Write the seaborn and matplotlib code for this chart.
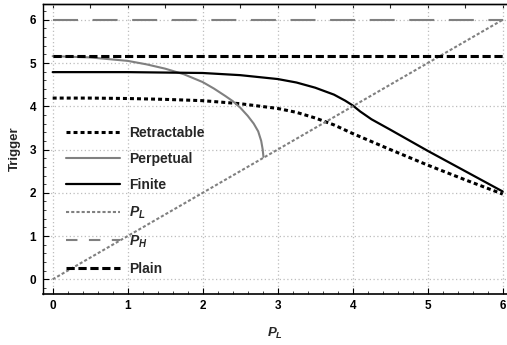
import numpy as np
import pandas as pd
import matplotlib
matplotlib.use("Agg")
import matplotlib.pyplot as plt
import seaborn as sns

# ---- data ----
x_ret = [0, 0.5, 1, 1.5, 2, 2.5, 3, 3.25, 3.5, 3.75, 4, 4.5, 5, 5.5, 6]
y_ret = [4.19, 4.19, 4.18, 4.16, 4.13, 4.06, 3.95, 3.86, 3.73, 3.57, 3.37, 3.00, 2.64, 2.30, 1.97]

x_per = [0, 0.5, 1, 1.25, 1.5, 1.75, 2, 2.15, 2.3, 2.4, 2.5, 2.6, 2.68, 2.74, 2.78, 2.8, 2.81]
y_per = [5.16, 5.13, 5.05, 4.97, 4.87, 4.74, 4.56, 4.41, 4.24, 4.12, 3.97, 3.78, 3.60, 3.42, 3.20, 3.00, 2.83]

x_fin = [0, 1, 2, 2.5, 3, 3.25, 3.5, 3.75, 3.9, 4, 4.1, 4.25, 4.5, 5, 5.5, 6]
y_fin = [4.79, 4.79, 4.77, 4.72, 4.63, 4.55, 4.43, 4.27, 4.13, 4.02, 3.88, 3.70, 3.46, 2.97, 2.50, 2.03]

x_pl = [0, 6]
y_pl = [0, 6]

x_ph = [0, 6]
y_ph = [6, 6]

x_plain = [0, 6]
y_plain = [5.16, 5.16]

labels = ["Retractable", "Perpetual", "Finite", "$P_L$", "$P_H$", "Plain"]
x_ticks = [0, 1, 2, 3, 4, 5, 6]
y_ticks = [0, 1, 2, 3, 4, 5, 6]

# ---- style ----
sns.set_theme(style="ticks")
plt.rcParams["font.family"] = ["Liberation Sans", "DejaVu Sans"]
plt.rcParams["font.weight"] = "bold"
plt.rcParams["mathtext.fontset"] = "custom"
plt.rcParams["mathtext.it"] = "Liberation Sans:italic:bold"
plt.rcParams["mathtext.rm"] = "Liberation Sans:bold"
plt.rcParams["mathtext.bf"] = "Liberation Sans:bold"

W, H = 507, 345
fig = plt.figure(figsize=(W / 100, H / 100), dpi=100)
ax = fig.add_axes([43 / W, (H - 293.5) / H, (W - 43) / W, (293.5 - 4.3) / H])

gray = "#808080"
series = [
    (x_ret, y_ret, "black", (0, (1.3, 1.0)), 2.2),
    (x_per, y_per, gray, "-", 1.5),
    (x_fin, y_fin, "black", "-", 1.6),
    (x_pl, y_pl, gray, (0, (1.5, 1.0)), 1.5),
    (x_ph, y_ph, gray, (0, (12, 7)), 1.5),
    (x_plain, y_plain, "black", (0, (2.7, 1.2)), 2.2),
]
for (xs, ys, c, ls, lw), lab in zip(series, labels):
    sns.lineplot(x=xs, y=ys, ax=ax, color=c, linestyle=ls, linewidth=lw,
                 label=lab, estimator=None, sort=False)

ax.set_xlim(-0.129, 6.057)
ax.set_ylim(-0.328, 6.358)
ax.set_xticks(x_ticks)
ax.set_yticks(y_ticks)
ax.set_xticklabels([str(t) for t in x_ticks])
ax.set_yticklabels([str(t) for t in y_ticks])
ax.xaxis.set_minor_locator(matplotlib.ticker.MultipleLocator(0.2))
ax.yaxis.set_minor_locator(matplotlib.ticker.MultipleLocator(0.2))
ax.tick_params(which="major", direction="in", length=4, width=0.8, labelsize=8.5,
               pad=5, colors="black")
ax.tick_params(which="minor", direction="in", length=2.5, width=0.6)
ax.tick_params(axis="x", which="both", top=False)
ax.tick_params(axis="y", which="both", right=False)
for lab in ax.get_xticklabels() + ax.get_yticklabels():
    lab.set_fontweight("bold")

ax.grid(True, which="major", color="#bdbdbd", linestyle=(0, (1, 2)), linewidth=0.9)
ax.set_axisbelow(True)

for s in ["left", "bottom", "top"]:
    ax.spines[s].set_color("black")
    ax.spines[s].set_linewidth(1.0)
ax.spines["bottom"].set_linewidth(1.2)
ax.spines["right"].set_visible(False)

sec = ax.secondary_xaxis("top")
sec.set_xticks(np.arange(0, 6.01, 0.5))
sec.set_xticklabels([])
sec.tick_params(direction="in", length=3, width=0.8)
sec.spines["top"].set_linewidth(1.0)

ax.set_ylabel("Trigger", fontsize=9.5, fontweight="bold", labelpad=6)
ax.set_xlabel("$P_L$", fontsize=9.5, labelpad=10)

leg = ax.legend(loc="center left", bbox_to_anchor=(66 / W, 1 - 200.8 / H),
                bbox_transform=fig.transFigure, frameon=False, fontsize=10,
                handlelength=3.9, handletextpad=0.65, labelspacing=0.88,
                borderpad=0, borderaxespad=0)
for t in leg.get_texts():
    t.set_fontweight("bold")
leg.get_lines()[4].set_dashes((5.5, 5.5))

fig.savefig("out.png", dpi=100)
